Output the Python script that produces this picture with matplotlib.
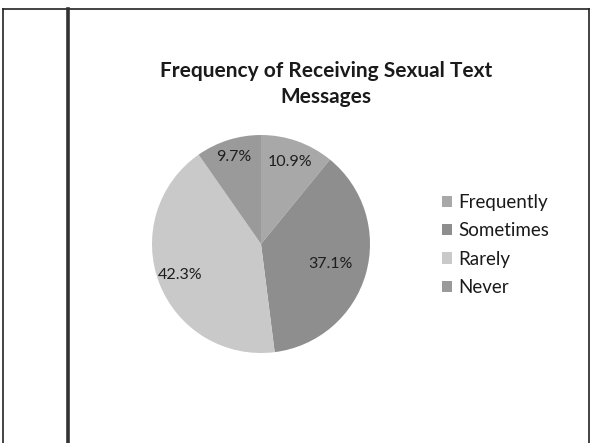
import matplotlib
matplotlib.use("Agg")
import matplotlib.pyplot as plt
from matplotlib.lines import Line2D
from matplotlib.patches import Patch
import numpy as np

categories = ["Frequently", "Sometimes", "Rarely", "Never"]
values = [10.9, 37.1, 42.3, 9.7]
colors = ["#a8a8a8", "#8e8e8e", "#c9c9c9", "#9a9a9a"]
title = "Frequency of Receiving Sexual Text\nMessages"

W, H = 592, 443
fig = plt.figure(figsize=(W / 100, H / 100), dpi=100)
fig.patch.set_facecolor("white")

# scanned page frame
def fline(x0, y0, x1, y1, lw, c="#222222"):
    fig.add_artist(Line2D([x0 / W, x1 / W], [1 - y0 / H, 1 - y1 / H],
                          transform=fig.transFigure, lw=lw, color=c))

fline(3, 9, 589, 9, 1.2)
fline(3, 9, 3, 443, 1.2)
fline(589, 9, 589, 443, 1.2)
fline(68, 9, 68, 443, 2.6, "#333333")

cx, cy, r = 261, 244, 109
ax = fig.add_axes([(cx - r) / W, 1 - (cy + r) / H, 2 * r / W, 2 * r / H])
wedges, texts, autotexts = ax.pie(
    values, colors=colors, startangle=90, counterclock=False,
    autopct=lambda p: f"{p:.1f}%", pctdistance=0.8,
    wedgeprops=dict(linewidth=0), radius=1.0,
    textprops=dict(fontsize=11.5, color="#1e1e1e", family="Lato"))
# best-fit style label distances
dists = [0.80, 0.66, 0.80, 0.84]
for w, t, d in zip(wedges, autotexts, dists):
    ang = np.deg2rad((w.theta1 + w.theta2) / 2)
    t.set_position((d * np.cos(ang), d * np.sin(ang)))
ax.set_xlim(-1, 1)
ax.set_ylim(-1, 1)
ax.set_aspect("equal")
ax.axis("off")

fig.text(326 / W, 1 - 84 / H, title, ha="center", va="center",
         fontsize=15, fontweight="bold", family="Lato", color="#1a1a1a",
         linespacing=1.4)

handles = [Patch(facecolor=c, edgecolor="none") for c in colors]
fig.legend(handles, categories, loc="center left",
           bbox_to_anchor=(442 / W, 1 - 245 / H), frameon=False,
           borderpad=0, borderaxespad=0,
           prop=dict(family="Lato", size=13.5), handlelength=0.55,
           handleheight=0.55, handletextpad=0.3, labelspacing=0.6,
           labelcolor="#1a1a1a")

fig.savefig("out.png", dpi=100)
